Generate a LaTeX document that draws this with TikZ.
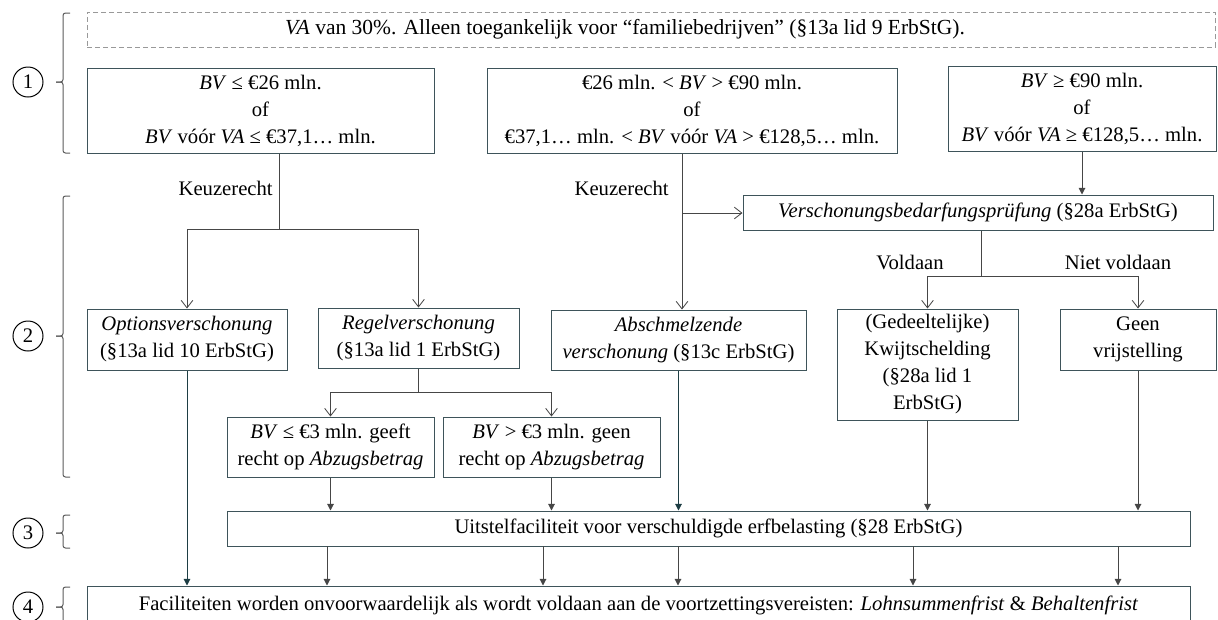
\documentclass[tikz,border=0pt]{standalone}
\usepackage{fontspec}
\setmainfont{Liberation Serif}
\usetikzlibrary{arrows.meta,calc}
\definecolor{boxcol}{RGB}{62,84,90}
\definecolor{lncol}{RGB}{70,70,70}
\definecolor{tealcol}{RGB}{30,62,68}
\definecolor{brccol}{RGB}{90,90,90}
\newcommand\mkbox[6]{\node[box, minimum width={(#4-#2)*0.6pt}, minimum height={(#5-#3)*0.6pt}] (#1) at ({(#2+#4)/2},{(#3+#5)/2}) {#6};}
\newcommand\mkbrace[3]{%
  \draw[brc] (70,#1) -- (63,#1) -- (63,#2) -- (56,#2);
  \draw[brc] (56,#2) -- (63,#2) -- (63,#3) -- (70,#3);}
\begin{document}
\begin{tikzpicture}[x=0.6pt,y=-0.6pt,
  font=\fontsize{12.4}{16.2}\selectfont,
  box/.style={draw=boxcol, line width=0.6pt, align=center, inner sep=0pt},
  dbox/.style={draw=gray!80, line width=0.6pt, dash pattern=on 3pt off 1.8pt, inner sep=0pt},
  ln/.style={draw=lncol, line width=0.6pt},
  oarr/.style={ln, -{Straight Barb[length=4.5pt,width=7pt,line width=0.5pt]}},
  farr/.style={ln, -{Triangle[length=4pt,width=4pt]}},
  brc/.style={draw=brccol, line width=0.6pt, rounded corners=1.5pt},
  num/.style={circle, draw=black, line width=0.6pt, minimum size=18pt, inner sep=0pt}]
\useasboundingbox (0,0) rectangle (1218,619);
\clip (0,0) rectangle (1218,619);

% row 1
\node[dbox, minimum width={1128*0.6pt}, minimum height={35*0.6pt}] (D) at (651,29.5) {};
\node[inner sep=0pt, font=\fontsize{12.9}{16.2}\selectfont] (Dt) at (625,29.5) {\textit{VA} van 30\%. Alleen toegankelijk voor “familiebedrijven” (§13a lid 9 ErbStG).};
\mkbox{A}{87}{68}{434}{153}{\textit{BV} ≤ €26 mln.\\ of\\ \textit{BV} vóór \textit{VA} ≤ €37,1… mln.}
\mkbox{B}{487}{68}{897}{153}{€26 mln. < \textit{BV} > €90 mln.\\ of\\ €37,1… mln. < \textit{BV} vóór \textit{VA} > €128,5… mln.}
\mkbox{C}{948}{66}{1216}{151}{\textit{BV} ≥ €90 mln.\\ of\\ \textit{BV} vóór \textit{VA} ≥ €128,5… mln.}

% row 2
\mkbox{Ver}{743}{195}{1213}{230}{\textit{Verschonungsbedarfungsprüfung} (§28a ErbStG)}
\mkbox{Opt}{87}{309}{287}{370}{\textit{Optionsverschonung}\\(§13a lid 10 ErbStG)}
\mkbox{Reg}{318}{308}{519}{368}{\textit{Regelverschonung}\\(§13a lid 1 ErbStG)}
\mkbox{Abs}{551}{310}{806}{370}{\textit{Abschmelzende}\\\textit{verschonung} (§13c ErbStG)}
\mkbox{Kw}{837}{309}{1018}{420}{(Gedeeltelijke)\\Kwijtschelding\\(§28a lid 1\\ErbStG)}
\mkbox{Geen}{1060}{309}{1216}{370}{Geen\\vrijstelling}
\mkbox{BVle}{227}{417}{434}{477}{\textit{BV} ≤ €3 mln. geeft\\recht op \textit{Abzugsbetrag}}
\mkbox{BVgt}{443}{417}{660}{477}{\textit{BV} > €3 mln. geen\\recht op \textit{Abzugsbetrag}}

% rows 3, 4
\mkbox{Uit}{227}{511}{1190}{546}{Uitstelfaciliteit voor verschuldigde erfbelasting (§28 ErbStG)}
\mkbox{Fac}{87}{586}{1190}{624}{Faciliteiten worden onvoorwaardelijk als wordt voldaan aan de voortzettingsvereisten: \textit{Lohnsummenfrist} \& \textit{Behaltenfrist}}

% labels
\node[anchor=east, inner sep=0pt] (k1) at (273,188) {Keuzerecht};
\node[anchor=east, inner sep=0pt] (k2) at (669,188) {Keuzerecht};
\node[inner sep=0pt] (vd) at (910,262) {Voldaan};
\node[inner sep=0pt] (nv) at (1118,262) {Niet voldaan};

% connectors
\coordinate (j1) at (279,229);
\draw[ln] (j1 |- A.south) -- (j1);
\draw[oarr] (j1) -| (Opt.north);
\draw[oarr] (j1) -| (Reg.north);

\coordinate (j2) at (418.5,392);
\draw[ln] (Reg.south) -- (j2);
\draw[oarr] (j2) -| (BVle.north);
\draw[oarr] (j2) -| (BVgt.north);

\coordinate (j3) at (682,213);
\draw[oarr] (j3 |- B.south) -- (j3 |- Abs.north);
\draw[oarr] (j3) -- (j3 -| Ver.west);

\draw[farr] (C.south) -- (C.south |- Ver.north);

\coordinate (j4) at (981,276);
\draw[ln] (j4 |- Ver.south) -- (j4);
\draw[oarr] (j4) -| (Kw.north);
\draw[oarr] (j4) -| (Geen.north);

\draw[farr] (BVle.south) -- (BVle.south |- Uit.north);
\draw[farr] (BVgt.south) -- (BVgt.south |- Uit.north);
\draw[farr, draw=tealcol] (Abs.south) -- (Abs.south |- Uit.north);
\draw[farr] (Kw.south) -- (Kw.south |- Uit.north);
\draw[farr] (Geen.south) -- (Geen.south |- Uit.north);

\draw[farr, draw=tealcol] (Opt.south) -- (Opt.south |- Fac.north);
\coordinate (d1) at (327,546);
\coordinate (d2) at (543,546);
\coordinate (d3) at (678,546);
\coordinate (d4) at (913,546);
\coordinate (d5) at (1118,546);
\foreach \d in {d1,d2,d3,d4,d5}{\draw[farr] (\d) -- (\d |- Fac.north);}

% numbers and braces
\node[num] (c1) at (28,82) {1};
\node[num] (c2) at (28,336) {2};
\node[num] (c3) at (28,533) {3};
\node[num] (c4) at (28,607) {4};
\mkbrace{13}{82}{153}
\mkbrace{196}{336}{477}
\mkbrace{515}{533}{548}
\mkbrace{587}{607}{640}
\end{tikzpicture}
\end{document}
